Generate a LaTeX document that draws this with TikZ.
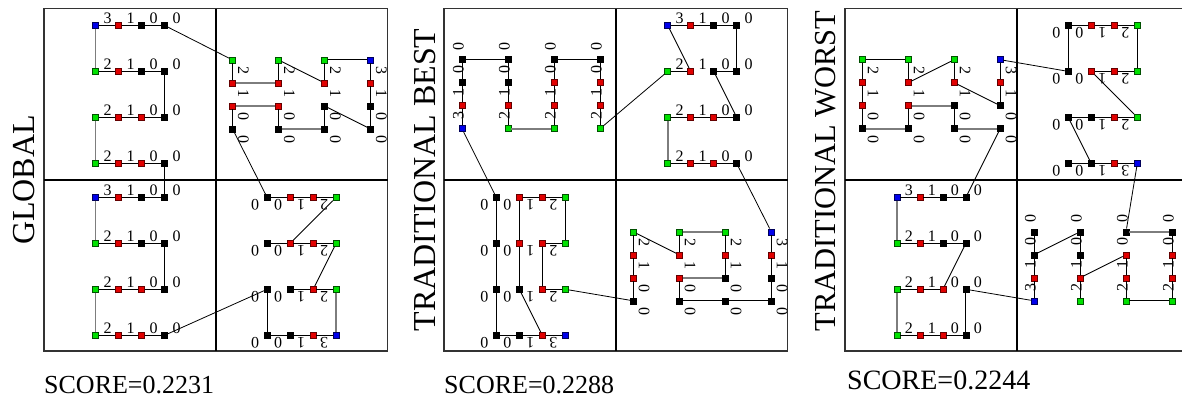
\documentclass[tikz,border=0pt]{standalone}
\usepackage{fontspec}
\setmainfont{Liberation Serif}
\definecolor{cB}{RGB}{0,0,235}
\definecolor{cBd}{RGB}{0,0,90}
\definecolor{cG}{RGB}{0,225,0}
\definecolor{cGd}{RGB}{0,80,0}
\definecolor{cR}{RGB}{225,0,0}
\definecolor{cRd}{RGB}{100,0,0}
\definecolor{cgray}{RGB}{125,125,125}
\tikzset{
  nd/.style={rectangle,minimum size=6pt,inner sep=0pt,line width=0.6pt},
  nB/.style={nd,fill=cB,draw=cBd},
  nG/.style={nd,fill=cG,draw=cGd},
  nR/.style={nd,fill=cR,draw=cRd},
  nK/.style={nd,fill=black,draw=black},
  lb/.style={font=\fontsize{16}{16}\selectfont,inner sep=0pt,transform shape},
  pk/.style={draw=black,line width=0.9pt},
  pg/.style={draw=cgray,line width=1.6pt},
  lk/.style={draw=black,line width=0.8pt},
  frm/.style={draw=black!80,line width=1.1pt},
  midv/.style={draw=black,line width=1.8pt},
  midh/.style={draw=black,line width=1.4pt},
  ttl/.style={rotate=90,font=\fontsize{32}{32}\selectfont,inner sep=0pt},
  scr/.style={anchor=base west,font=\fontsize{26}{26}\selectfont,inner sep=0pt}
}
% #1 name, #2 cx, #3 cy, #4 rotation, #5 label dx (local), #6 label dy (local), #7 colours
\newcommand\drawquad[7]{%
  \begin{scope}[shift={(#2,#3)},rotate=#4]
    \foreach \cl [count=\ii from 0] in {#7} {
      \pgfmathtruncatemacro\sI{int(\ii/4)}
      \pgfmathtruncatemacro\nI{mod(\ii,4)}
      \pgfmathsetmacro\uu{(\nI-1.5)*23}
      \pgfmathsetmacro\vv{(\sI-1.5)*46}
      \pgfmathtruncatemacro\lab{ifthenelse(\nI==0,ifthenelse(\sI==0,3,2),ifthenelse(\nI==1,1,0))}
      \node[n\cl] (p#1\sI\nI) at (\uu,\vv) {};
      \node[lb] at (\uu+#5,\vv+#6) {\lab};
    }
  \end{scope}}
\newcommand\qedges[3]{\foreach \ea/\eb in {#3} \draw[#2] (p#1\ea) -- (p#1\eb);}
\begin{document}
\begin{tikzpicture}[x=1pt,y=-1pt]
\useasboundingbox (0,0) rectangle (1182,399);
\clip (0,0) rectangle (1182,399);
% frames
\foreach \px/\mx in {44/216, 444/616, 845/1016.7} {
  \draw[frm] (\px,8.5) rectangle (\px+343.5,351);
  \draw[midv] (\mx,8.5) -- (\mx,351);
  \draw[midh] (\px,180) -- (\px+343.5,180);
}
% ---------- panel 1 ----------
\drawquad{1a}{130}{94.4}{0}{12}{-7.3}{B,R,K,K, G,R,K,K, G,R,R,K, G,R,R,K}
\drawquad{1b}{301.5}{94.4}{-90}{11}{-10.9}{B,R,K,K, G,R,K,K, G,R,R,K, G,R,R,K}
\drawquad{1c}{130}{266.3}{0}{12}{-7.3}{B,R,K,K, G,R,K,K, G,R,R,K, G,R,R,K}
\drawquad{1d}{301.6}{266.3}{180}{12}{-7.3}{B,R,K,K, G,R,K,K, G,R,R,K, G,R,R,K}
\qedges{1a}{pk}{00/01,01/02,02/03,10/11,11/12,12/13,13/23,20/21,21/22,22/23,30/31,31/32,32/33}
\qedges{1a}{pg}{00/10,20/30}
\qedges{1b}{pk}{30/31,32/33,20/21,20/11,22/23,10/00,10/11,12/13,12/03,00/01,01/02,02/03}
\qedges{1b}{pg}{31/21,32/22,23/13}
\qedges{1c}{pk}{00/01,01/02,02/03,10/11,11/12,12/13,13/23,20/21,21/22,22/23,30/31,31/32,32/33}
\qedges{1c}{pg}{00/10,20/30}
\qedges{1d}{pk}{30/31,31/32,32/33,30/22,20/21,21/22,22/23,20/11,10/11,11/12,13/03,00/01,01/02,02/03}
\qedges{1d}{pg}{10/00}
\draw[lk] (p1a03) -- (p1b30);
\draw[pk] (p1a33) -- (p1c03);
\draw[lk] (p1b33) -- (p1d33);
\draw[lk] (p1c33) -- (p1d13);
% ---------- panel 2 ----------
\drawquad{2a}{531}{94.2}{90}{13}{-3.7}{B,R,K,K, G,R,K,K, G,R,R,K, G,R,R,K}
\drawquad{2b}{702.2}{94.4}{0}{12}{-7.3}{B,R,K,K, G,R,K,K, G,R,R,K, G,R,R,K}
\drawquad{2c}{530.8}{266.3}{180}{12}{-7.3}{B,R,K,K, G,R,K,K, G,R,R,K, G,R,R,K}
\drawquad{2d}{702.3}{266.3}{-90}{11}{-10.9}{B,R,K,K, G,R,K,K, G,R,R,K, G,R,R,K}
\qedges{2a}{pk}{00/01,01/02,02/03,03/13,10/11,11/12,12/13,20/21,21/22,22/23,23/33,30/31,31/32,32/33}
\qedges{2a}{pg}{10/20}
\qedges{2b}{pk}{00/01,01/02,02/03,00/11,03/13,10/11,12/13,12/23,20/21,21/22,22/23,30/31,31/32,32/33}
\qedges{2b}{pg}{20/30}
\qedges{2c}{pk}{33/23,23/13,13/03,32/31,31/30,30/20,32/22,22/12,20/21,21/11,11/10,12/01,03/02,02/01,01/00}
\qedges{2d}{pk}{30/31,31/32,32/33,30/21,20/21,22/23,23/13,13/03,10/11,11/12,00/01,01/02,02/03}
\qedges{2d}{pg}{20/10,22/12}
\draw[lk] (p2a30) -- (p2b10);
\draw[lk] (p2a00) -- (p2c33);
\draw[lk] (p2b33) -- (p2d00);
\draw[lk] (p2c10) -- (p2d33);
% ---------- panel 3 ----------
\drawquad{3a}{931.2}{94.2}{-90}{11}{-10.9}{B,R,K,K, G,R,K,K, G,R,R,K, G,R,R,K}
\drawquad{3b}{1102.8}{94.4}{180}{12}{-7.3}{B,R,K,K, G,R,K,K, G,R,R,K, G,R,R,K}
\drawquad{3c}{931.4}{266.3}{0}{12}{-7.3}{B,R,K,K, G,R,K,K, G,R,R,K, G,R,R,K}
\drawquad{3d}{1103}{266.3}{90}{13}{-3.7}{B,R,K,K, G,R,K,K, G,R,R,K, G,R,R,K}
\qedges{3a}{pk}{30/31,31/32,32/33,30/20,20/21,22/23,21/10,10/11,12/13,11/02,00/01,01/02}
\qedges{3a}{pg}{33/23,22/12,13/03}
\qedges{3b}{pk}{30/31,31/32,32/33,30/20,33/23,20/21,21/22,22/10,10/11,11/12,12/13,13/02,00/01,01/02,02/03}
\qedges{3c}{pk}{00/01,01/02,02/03,10/11,11/12,12/13,13/22,20/21,21/22,23/33,30/31,31/32,32/33}
\qedges{3c}{pg}{00/10,20/30}
\qedges{3d}{pk}{00/01,01/02,02/03,02/13,10/11,11/12,12/13,11/22,20/21,21/22,20/30,30/31,31/32,32/33}
\qedges{3d}{pg}{23/33}
\draw[lk] (p3a00) -- (p3b23);
\draw[lk] (p3a03) -- (p3c03);
\draw[lk] (p3b00) -- (p3d23);
\draw[lk] (p3c23) -- (p3d00);
% ---------- titles ----------
\node[ttl] (t1) at (24,180) {GLOBAL};
\node[ttl] (t2) at (425,180) {TRADITIONAL BEST};
\node[ttl,font=\fontsize{30.5}{30.5}\selectfont] (t3) at (826,171) {TRADITIONAL WORST};
\node[scr] (s1) at (44,393) {SCORE=0.2231};
\node[scr] (s2) at (444,393) {SCORE=0.2288};
\node[scr,font=\fontsize{28}{28}\selectfont] (s3) at (847,389) {SCORE=0.2244};
\end{tikzpicture}
\end{document}
